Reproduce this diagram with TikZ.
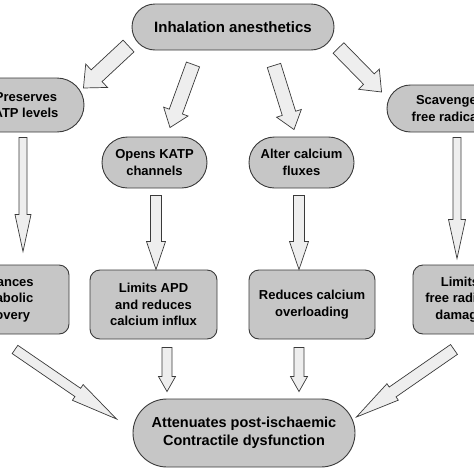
\documentclass[tikz,border=0pt]{standalone}
\usepackage{fontspec}
\setmainfont{Liberation Sans}
\usepackage{tikz}
\usetikzlibrary{calc}
\usetikzlibrary{shapes.misc}
\definecolor{boxgray}{HTML}{C6C6C6}
\definecolor{arrowgray}{HTML}{EEEEEE}
\definecolor{edgegray}{HTML}{3A3A3A}

% hollow block arrow: tail, tip, half shaft, half head, head length
\newcommand{\blockarrow}[5]{%
  \coordinate (ba-t) at #1;
  \coordinate (ba-p) at #2;
  \coordinate (ba-b) at ($(ba-p)!#5pt!(ba-t)$);
  \draw[arrowbody] ($(ba-t)!#3pt!90:(ba-p)$) -- ($(ba-b)!#3pt!90:(ba-p)$)
    -- ($(ba-b)!#4pt!90:(ba-p)$) -- (ba-p) -- ($(ba-b)!#4pt!-90:(ba-p)$)
    -- ($(ba-b)!#3pt!-90:(ba-p)$) -- ($(ba-t)!#3pt!-90:(ba-p)$) -- cycle;
}

\begin{document}
\begin{tikzpicture}[x=1pt, y=-1pt,
    pill/.style={rounded rectangle, draw=edgegray, fill=boxgray, line width=0.9pt,
      align=center, inner sep=0pt, font=\bfseries\fontsize{13}{16.5}\selectfont},
    card/.style={rectangle, rounded corners=10pt, draw=edgegray, fill=boxgray, line width=0.9pt,
      align=center, inner sep=0pt, font=\bfseries\fontsize{13}{16.5}\selectfont},
    arrowbody/.style={draw=edgegray, fill=arrowgray, line width=0.7pt, line join=miter}]
  \useasboundingbox (0,0) rectangle (474,474);
  \clip (0,0) rectangle (474,474);

  % top
  \node[pill, minimum width=202pt, minimum height=46pt, font=\bfseries\fontsize{15}{18}\selectfont]
    (inh) at (233,27) {Inhalation anesthetics};

  % first row
  \node[pill, minimum width=116pt, minimum height=54pt] (atp) at (26,105) {Preserves\\ATP levels};
  \node[pill, minimum width=105pt, minimum height=51pt] (katp) at (154.5,162.5) {Opens KATP\\channels};
  \node[pill, minimum width=105pt, minimum height=51pt] (calc) at (301.5,162.5) {Alter calcium\\fluxes};
  \node[pill, minimum width=126pt, minimum height=47pt] (scav) at (450,108.5) {Scavenges\\free radicals};

  % second row
  \node[card, minimum width=132pt, minimum height=69pt] (enh) at (3,299.5) {Enhances\\metabolic\\recovery};
  \node[card, minimum width=127pt, minimum height=69pt] (apd) at (153.5,304.5) {Limits APD\\and reduces\\calcium influx};
  \node[card, minimum width=126pt, minimum height=69pt] (red) at (312,304.5) {Reduces calcium\\overloading};
  \node[card, minimum width=94pt, minimum height=69pt] (lfr) at (460,299.5) {Limits\\free radical\\damage};

  % bottom
  \node[pill, minimum width=222pt, minimum height=68pt, font=\bfseries\fontsize{14.5}{18}\selectfont]
    (att) at (244,433) {Attenuates post-ischaemic\\Contractile dysfunction};

  % arrows
  \blockarrow{([shift={(-3,19)}]inh.west)}{([shift={(-1,-17)}]atp.east)}{8}{16}{18}
  \blockarrow{([shift={(-40,14)}]inh.south)}{([shift={(15.5,-9)}]katp.north)}{7}{13}{17}
  \blockarrow{([shift={(41,15)}]inh.south)}{([shift={(-7.5,-7)}]calc.north)}{7}{13}{17}
  \blockarrow{([shift={(4,21)}]inh.east)}{([shift={(-5,-16.5)}]scav.west)}{7.5}{14.5}{18}

  \blockarrow{([shift={(-3,5)}]atp.south)}{([shift={(20,-13)}]enh.north)}{4}{8}{37}
  \blockarrow{([shift={(1.5,7)}]katp.south)}{([shift={(2.5,0)}]apd.north)}{5.5}{9.5}{28}
  \blockarrow{([shift={(-2.5,7)}]calc.south)}{([shift={(-13,0)}]red.north)}{5.5}{9.5}{28}
  \blockarrow{([shift={(7,5)}]scav.south)}{([shift={(-3,-6)}]lfr.north)}{4}{8.5}{39}

  \blockarrow{([shift={(13.5,8)}]apd.south)}{([shift={(-77,-7)}]att.north)}{5}{8.5}{15}
  \blockarrow{([shift={(-13,8)}]red.south)}{([shift={(55,-7)}]att.north)}{5}{8.5}{15}
  \blockarrow{([shift={(12,15)}]enh.south)}{([shift={(-16,-14)}]att.west)}{5}{9.5}{47}
  \blockarrow{([shift={(-6,15)}]lfr.south)}{([shift={(1,-16)}]att.east)}{6}{10}{44}
\end{tikzpicture}
\end{document}
